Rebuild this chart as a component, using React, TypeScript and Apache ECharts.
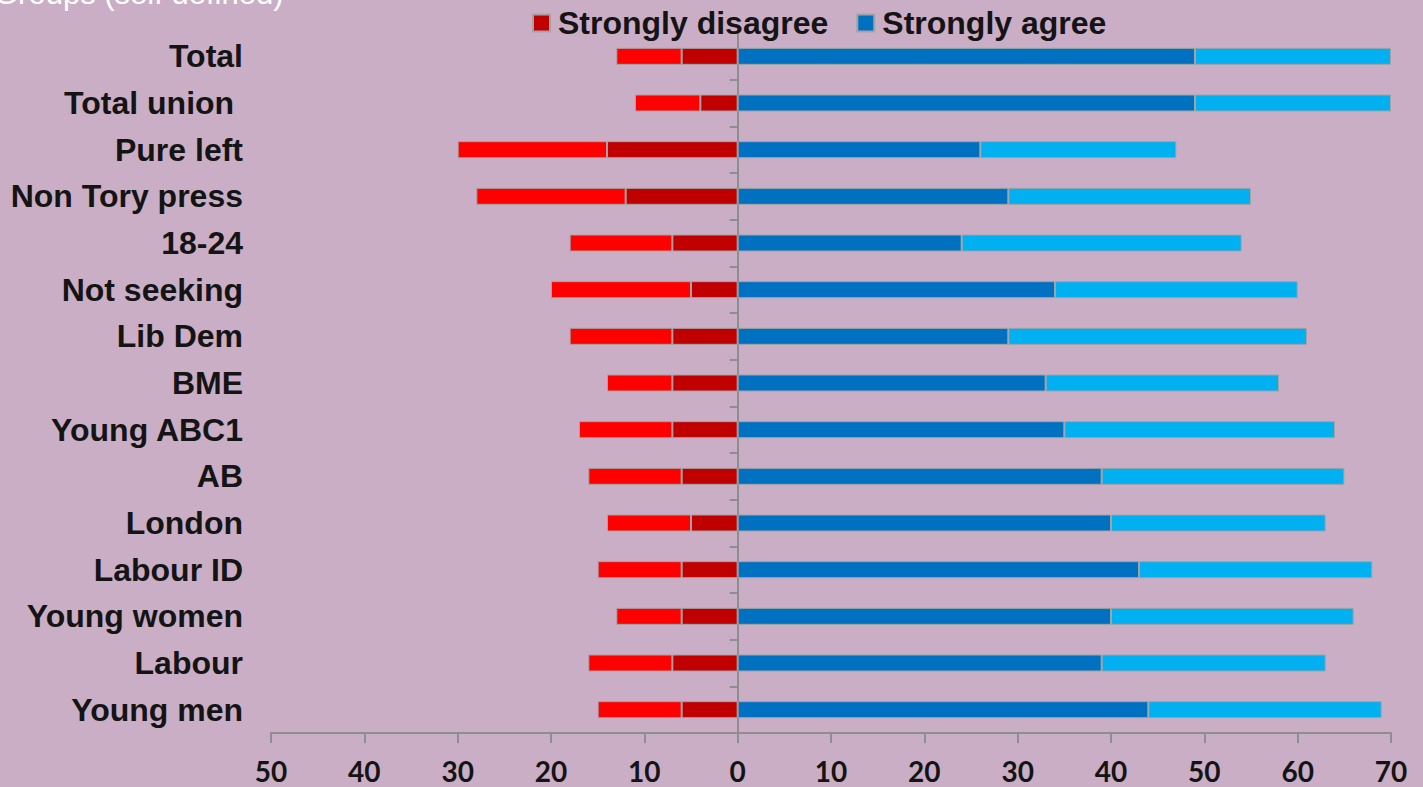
import React, { useEffect, useRef } from "react";
import * as echarts from "echarts";

const categories = [
  "Total",
  "Total union ",
  "Pure left",
  "Non Tory press",
  "18-24",
  "Not seeking",
  "Lib Dem",
  "BME",
  "Young ABC1",
  "AB",
  "London",
  "Labour ID",
  "Young women",
  "Labour",
  "Young men",
];
const stronglyDisagree = [6, 4, 14, 12, 7, 5, 7, 7, 7, 6, 5, 6, 6, 7, 6];
const disagree = [7, 7, 16, 16, 11, 15, 11, 7, 10, 10, 9, 9, 7, 9, 9];
const stronglyAgree = [49, 49, 26, 29, 24, 34, 29, 33, 35, 39, 40, 43, 40, 39, 44];
const agree = [21, 21, 21, 26, 30, 26, 32, 25, 29, 26, 23, 25, 26, 24, 25];
const legendNames = ["Strongly disagree", "Strongly agree"];
const titleText = "Groups (self defined)";

const BG = "#CAAEC5";
const BORDER = "#A3A3A3";
const AXIS = "#8E8E8E";
const TEXT = "#141414";

export default function App() {
  const ref = useRef<HTMLDivElement>(null);
  useEffect(() => {
    if (!ref.current) return;
    const chart = echarts.init(ref.current, undefined, { renderer: "svg" });
    const barStyle = (color: string) => ({
      color,
      borderColor: BORDER,
      borderWidth: 1,
    });
    chart.setOption({
      animation: false,
      backgroundColor: BG,
      graphic: [
        {
          type: "text",
          left: -6,
          top: -22,
          style: {
            text: titleText,
            fill: "#ffffff",
            font: "normal 31px 'Liberation Sans', Arial, sans-serif",
          },
        },
      ],
      legend: {
        data: legendNames,
        left: 532,
        top: 7,
        padding: 0,
        itemWidth: 17,
        itemHeight: 17,
        itemGap: 28,
        icon: "rect",
        textStyle: {
          color: TEXT,
          fontSize: 32,
          fontWeight: "bold",
          fontFamily: "'Liberation Sans', Arial, sans-serif",
          padding: [0, 0, 0, 3],
        },
      },
      grid: { left: 271, right: 32, top: 33, height: 700 },
      xAxis: {
        type: "value",
        min: -50,
        max: 70,
        interval: 10,
        axisLine: { show: true, onZero: false, lineStyle: { color: AXIS, width: 2 } },
        axisTick: { show: true, length: 10, lineStyle: { color: AXIS, width: 2 } },
        splitLine: { show: false },
        axisLabel: {
          formatter: (v: number) => String(Math.abs(v)),
          color: TEXT,
          fontSize: 28,
          fontWeight: "bold",
          fontFamily: "Lato, 'Open Sans', sans-serif",
          margin: 24,
        },
      },
      yAxis: [
        {
          type: "category",
          data: categories,
          inverse: true,
          axisLine: { show: true, onZero: true, lineStyle: { color: AXIS, width: 2 } },
          axisTick: { show: true, length: 8, lineStyle: { color: AXIS, width: 2 } },
          axisLabel: { show: false },
          splitLine: { show: false },
        },
        {
          type: "category",
          data: categories,
          inverse: true,
          position: "left",
          axisLine: { show: false },
          axisTick: { show: false },
          splitLine: { show: false },
          axisLabel: {
            margin: 28,
            color: TEXT,
            fontSize: 32,
            fontWeight: "bold",
            fontFamily: "'Liberation Sans', Arial, sans-serif",
          },
        },
      ],
      series: [
        {
          name: "Strongly disagree",
          type: "bar",
          stack: "all",
          barWidth: 17,
          yAxisIndex: 0,
          itemStyle: barStyle("#C00000"),
          data: stronglyDisagree.map((v) => -v),
        },
        {
          name: "Disagree",
          type: "bar",
          stack: "all",
          barWidth: 17,
          yAxisIndex: 0,
          itemStyle: barStyle("#FF0000"),
          data: disagree.map((v) => -v),
        },
        {
          name: "Strongly agree",
          type: "bar",
          stack: "all",
          barWidth: 17,
          yAxisIndex: 0,
          itemStyle: barStyle("#0070C0"),
          data: stronglyAgree,
        },
        {
          name: "Agree",
          type: "bar",
          stack: "all",
          barWidth: 17,
          yAxisIndex: 0,
          itemStyle: barStyle("#00B0F0"),
          data: agree,
        },
      ],
    });
    return () => chart.dispose();
  }, []);
  return (
    <div
      ref={ref}
      style={{ position: "fixed", left: 0, top: 0, width: 1423, height: 787, background: BG }}
    />
  );
}
